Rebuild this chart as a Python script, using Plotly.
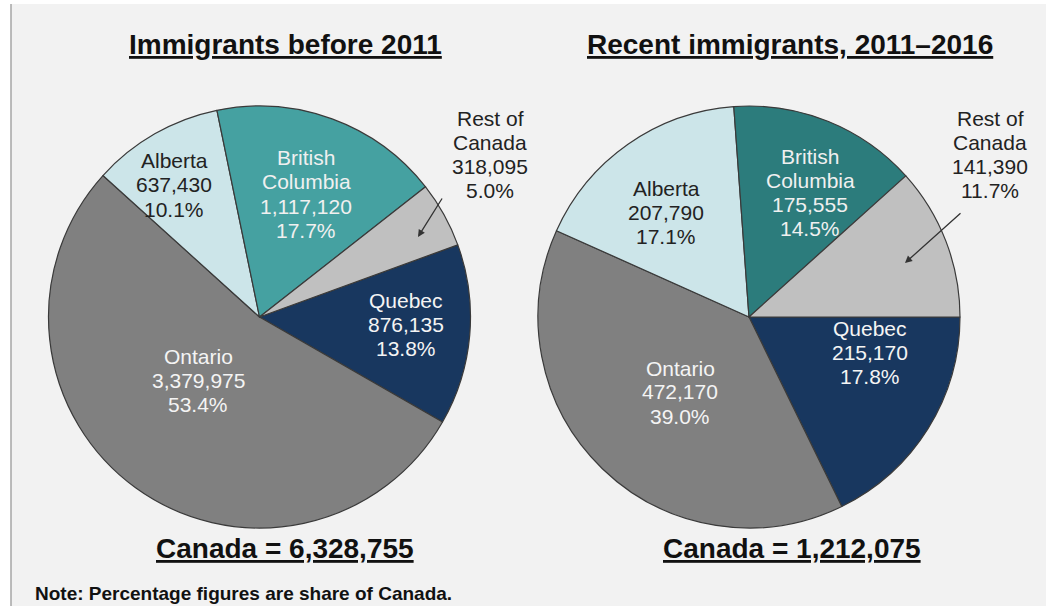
import plotly.graph_objects as go

# Immigrant population by region of residence, Canada, 2016 Census
regions = ["Quebec", "Ontario", "Alberta", "British Columbia", "Rest of Canada"]
region_lines = [["Quebec"], ["Ontario"], ["Alberta"], ["British", "Columbia"], ["Rest of", "Canada"]]
before_2011 = [876135, 3379975, 637430, 1117120, 318095]
recent_2011_2016 = [215170, 472170, 207790, 175555, 141390]

panel_titles = ["Immigrants before 2011", "Recent immigrants, 2011\u20132016"]

colors_left = ["#18375F", "#808080", "#CCE5E9", "#45A1A1", "#C0C0C0"]
colors_right = ["#18375F", "#808080", "#CCE5E9", "#2C7C7C", "#C0C0C0"]
text_colors = ["#F4F4F4", "#F4F4F4", "#222222", "#F0F0F0", "#222222"]

W, H = 1046, 606
FONT = "Liberation Sans, Arial, sans-serif"


def px_x(x):
    return x / W


def px_y(y):
    return 1 - y / H


def pie_domain(cx, cy, r):
    return dict(x=[px_x(cx - r), px_x(cx + r)], y=[px_y(cy + r), px_y(cy - r)])


fig = go.Figure()

R = 211
centers = [(259.5, 317), (749, 317)]
rotations = [70, 90]
datasets = [before_2011, recent_2011_2016]
palettes = [colors_left, colors_right]

for (cx, cy), rot, vals, pal in zip(centers, rotations, datasets, palettes):
    fig.add_trace(go.Pie(
        labels=regions,
        values=vals,
        sort=False,
        direction="clockwise",
        rotation=rot,
        marker=dict(colors=pal, line=dict(color="#3A3A3A", width=1.2)),
        textinfo="none",
        hoverinfo="label+value+percent",
        showlegend=False,
        domain=pie_domain(cx, cy, R),
    ))

# Slice labels: name, count and share of Canada, one line at a time
label_pos = [
    [(406, 324), (198, 380), (174, 185), (306, 194), (490, 154)],
    [(870, 352), (680, 392), (666, 212), (810, 192), (990, 154)],
]
LINE_STEP = 24
annotations = []
for vals, positions in zip(datasets, label_pos):
    total = sum(vals)
    for i, (v, (x, y)) in enumerate(zip(vals, positions)):
        lines = region_lines[i] + [f"{v:,}", f"{100 * v / total:.1f}%"]
        n = len(lines)
        for k, line in enumerate(lines):
            ly = y + (k - (n - 1) / 2) * LINE_STEP
            annotations.append(dict(
                x=px_x(x), y=px_y(ly), xref="paper", yref="paper",
                text=line, showarrow=False,
                xanchor="center", yanchor="middle",
                font=dict(family=FONT, size=21, color=text_colors[i]),
            ))

# Leader arrows for the small "Rest of Canada" slices
for (hx, hy), (tx, ty) in [((418, 237), (443, 197)), ((905, 263), (962, 212))]:
    annotations.append(dict(
        x=px_x(hx), y=px_y(hy), xref="paper", yref="paper",
        ax=tx - hx, ay=ty - hy, axref="pixel", ayref="pixel",
        text="", showarrow=True, arrowhead=2, arrowsize=1.1,
        arrowwidth=1.3, arrowcolor="#333333",
    ))

# Panel titles and totals
for (tx, total_x), title, vals in zip([(285, 285), (790, 792)], panel_titles, datasets):
    annotations.append(dict(
        x=px_x(tx), y=px_y(45), xref="paper", yref="paper",
        text=f"<b><u>{title}</u></b>", showarrow=False,
        xanchor="center", yanchor="middle",
        font=dict(family=FONT, size=28, color="#111111"),
    ))
    annotations.append(dict(
        x=px_x(total_x), y=px_y(548), xref="paper", yref="paper",
        text=f"<b><u>Canada = {sum(vals):,}</u></b>", showarrow=False,
        xanchor="center", yanchor="middle",
        font=dict(family=FONT, size=28, color="#111111"),
    ))

annotations.append(dict(
    x=px_x(33), y=px_y(593), xref="paper", yref="paper",
    text="<b>Note: Percentage figures are share of Canada.</b>", showarrow=False,
    xanchor="left", yanchor="middle",
    font=dict(family=FONT, size=19, color="#111111"),
))

shapes = [
    dict(type="rect", xref="paper", yref="paper",
         x0=px_x(11), x1=1, y0=0, y1=px_y(4),
         fillcolor="#F2F2F2", line=dict(width=0), layer="below"),
    dict(type="line", xref="paper", yref="paper",
         x0=px_x(11), x1=px_x(11), y0=0, y1=px_y(4),
         line=dict(color="#A6A6A6", width=1.5), layer="below"),
]

fig.update_layout(
    width=W, height=H,
    margin=dict(l=0, r=0, t=0, b=0),
    paper_bgcolor="#FFFFFF",
    plot_bgcolor="#F2F2F2",
    annotations=annotations,
    shapes=shapes,
    font=dict(family=FONT),
)

fig.write_html("out.html")
